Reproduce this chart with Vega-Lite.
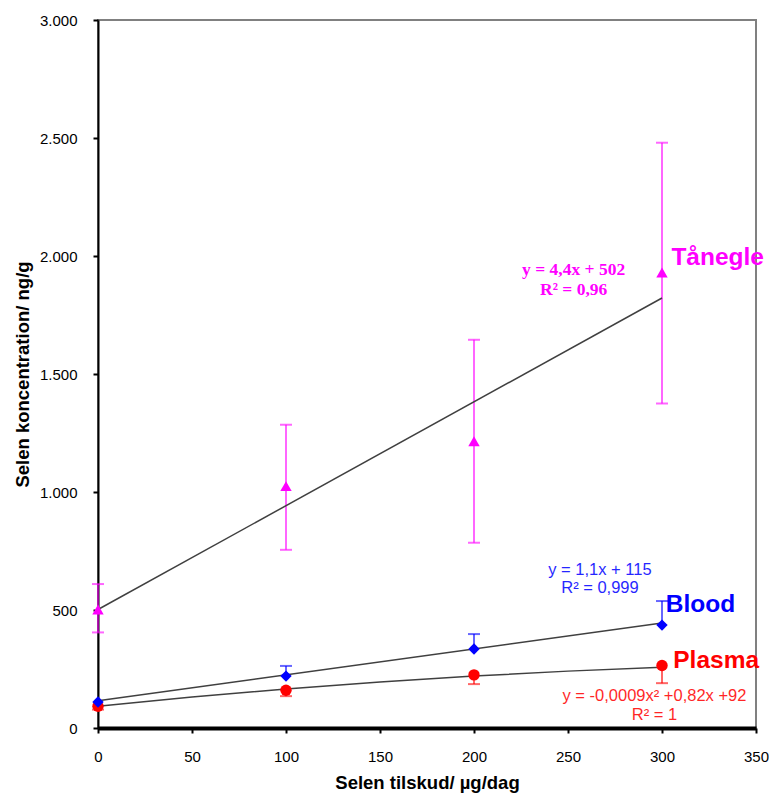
{
  "$schema": "https://vega.github.io/schema/vega-lite/v6.json",
  "width": 658,
  "height": 708,
  "autosize": "none",
  "padding": {"left": 98, "top": 20, "right": 13, "bottom": 68},
  "background": "white",
  "datasets": {
    "trend": [
      {"s": "Tånegle", "x": 0, "y": 502}, {"s": "Tånegle", "x": 300, "y": 1822},
      {"s": "Blood", "x": 0, "y": 115}, {"s": "Blood", "x": 300, "y": 445},
      {"s": "Plasma", "x": 0, "y": 92}, {"s": "Plasma", "x": 50, "y": 131}, {"s": "Plasma", "x": 100, "y": 165},
      {"s": "Plasma", "x": 150, "y": 195}, {"s": "Plasma", "x": 200, "y": 220}, {"s": "Plasma", "x": 250, "y": 241},
      {"s": "Plasma", "x": 300, "y": 257}
    ],
    "err": [
      {"s": "Tånegle", "x": 0, "y": 405, "y2": 610},
      {"s": "Tånegle", "x": 100, "y": 755, "y2": 1285},
      {"s": "Tånegle", "x": 200, "y": 785, "y2": 1645},
      {"s": "Tånegle", "x": 300, "y": 1375, "y2": 2480},
      {"s": "Blood", "x": 100, "y": 220, "y2": 263},
      {"s": "Blood", "x": 200, "y": 335, "y2": 398},
      {"s": "Blood", "x": 300, "y": 436, "y2": 538},
      {"s": "Plasma", "x": 0, "y": 78, "y2": 92},
      {"s": "Plasma", "x": 100, "y": 135, "y2": 160},
      {"s": "Plasma", "x": 200, "y": 186, "y2": 225},
      {"s": "Plasma", "x": 300, "y": 190, "y2": 265}
    ],
    "caps": [
      {"s": "Tånegle", "x": 0, "y": 405}, {"s": "Tånegle", "x": 0, "y": 610},
      {"s": "Tånegle", "x": 100, "y": 755}, {"s": "Tånegle", "x": 100, "y": 1285},
      {"s": "Tånegle", "x": 200, "y": 785}, {"s": "Tånegle", "x": 200, "y": 1645},
      {"s": "Tånegle", "x": 300, "y": 1375}, {"s": "Tånegle", "x": 300, "y": 2480},
      {"s": "Blood", "x": 100, "y": 263}, {"s": "Blood", "x": 200, "y": 398}, {"s": "Blood", "x": 300, "y": 538},
      {"s": "Plasma", "x": 0, "y": 78}, {"s": "Plasma", "x": 100, "y": 135}, {"s": "Plasma", "x": 200, "y": 186}, {"s": "Plasma", "x": 300, "y": 190}
    ],
    "pts": [
      {"s": "Tånegle", "x": 0, "y": 502}, {"s": "Tånegle", "x": 100, "y": 1025}, {"s": "Tånegle", "x": 200, "y": 1215}, {"s": "Tånegle", "x": 300, "y": 1930},
      {"s": "Plasma", "x": 0, "y": 92}, {"s": "Plasma", "x": 100, "y": 160}, {"s": "Plasma", "x": 200, "y": 225}, {"s": "Plasma", "x": 300, "y": 265},
      {"s": "Blood", "x": 0, "y": 110}, {"s": "Blood", "x": 100, "y": 220}, {"s": "Blood", "x": 200, "y": 335}, {"s": "Blood", "x": 300, "y": 436}
    ],
    "labels": [
      {"s": "Tånegle", "x": 305, "y": 1962, "label": "Tånegle"},
      {"s": "Blood", "x": 302, "y": 492, "label": "Blood"},
      {"s": "Plasma", "x": 306, "y": 254, "label": "Plasma"}
    ],
    "eqs": [
      {"s": "Tånegle", "x": 253, "y": 1919, "label": "y = 4,4x  + 502"},
      {"s": "Tånegle", "x": 253, "y": 1835, "label": "R² = 0,96"},
      {"s": "Blood", "x": 267, "y": 648, "label": "y = 1,1x + 115"},
      {"s": "Blood", "x": 267, "y": 572, "label": "R² = 0,999"},
      {"s": "Plasma", "x": 296, "y": 114, "label": "y = -0,0009x²  +0,82x +92"},
      {"s": "Plasma", "x": 296, "y": 34, "label": "R² = 1"}
    ]
  },
  "encoding": {
    "x": {
      "field": "x", "type": "quantitative",
      "scale": {"domain": [0, 350], "nice": false},
      "axis": {"values": [0, 50, 100, 150, 200, 250, 300, 350], "title": "Selen tilskud/ µg/dag", "domainWidth": 4, "labelPadding": 16, "titlePadding": 9, "labelFlush": false}
    },
    "y": {
      "field": "y", "type": "quantitative",
      "scale": {"domain": [0, 3000], "nice": false},
      "axis": {"values": [0, 500, 1000, 1500, 2000, 2500, 3000], "title": "Selen koncentration/ ng/g", "domainWidth": 2, "labelPadding": 16, "titlePadding": 7, "labelExpr": "replace(format(datum.value, ',d'), ',', '.')", "labelFlush": false}
    },
    "color": {
      "field": "s", "type": "nominal",
      "scale": {"domain": ["Tånegle", "Blood", "Plasma"], "range": ["#FF00FF", "#0000FF", "#FF0000"]},
      "legend": null
    }
  },
  "layer": [
    {
      "data": {"name": "err"},
      "mark": {"type": "rule", "strokeWidth": 2, "opacity": 0.6},
      "encoding": {"y2": {"field": "y2"}}
    },
    {
      "data": {"name": "caps"},
      "mark": {"type": "tick", "orient": "horizontal", "size": 12, "thickness": 2, "opacity": 0.6}
    },
    {
      "data": {"name": "trend"},
      "mark": {"type": "line", "strokeWidth": 1.5},
      "encoding": {"color": {"value": "#404040"}, "detail": {"field": "s"}}
    },
    {
      "data": {"name": "pts"},
      "mark": {"type": "point", "filled": true, "opacity": 1},
      "encoding": {
        "shape": {"field": "s", "type": "nominal", "scale": {"domain": ["Tånegle", "Blood", "Plasma"], "range": ["triangle-up", "diamond", "circle"]}, "legend": null},
        "size": {"value": 130}
      }
    },
    {
      "data": {"name": "labels"},
      "mark": {"type": "text", "align": "left", "baseline": "alphabetic", "font": "Liberation Sans", "fontWeight": "bold", "fontSize": 24.5},
      "encoding": {"text": {"field": "label"}}
    },
    {
      "data": {"name": "eqs"},
      "transform": [{"filter": "datum.s == 'Tånegle'"}],
      "mark": {"type": "text", "align": "center", "baseline": "alphabetic", "font": "Liberation Serif", "fontWeight": "bold", "fontSize": 17.5},
      "encoding": {"text": {"field": "label"}}
    },
    {
      "data": {"name": "eqs"},
      "transform": [{"filter": "datum.s != 'Tånegle'"}],
      "mark": {"type": "text", "align": "center", "baseline": "alphabetic", "font": "Liberation Sans", "fontSize": 16.5, "opacity": 0.85},
      "encoding": {"text": {"field": "label"}}
    }
  ],
  "config": {
    "view": {"stroke": "#808080", "strokeWidth": 2},
    "axis": {
      "grid": false,
      "labelFont": "Liberation Sans", "labelFontSize": 15, "labelColor": "#000000",
      "titleFont": "Liberation Sans", "titleFontSize": 18.5, "titleFontWeight": "bold", "titleColor": "#000000",
      "domainColor": "#000000", "tickColor": "#000000", "tickWidth": 2, "tickSize": 5
    }
  }
}
